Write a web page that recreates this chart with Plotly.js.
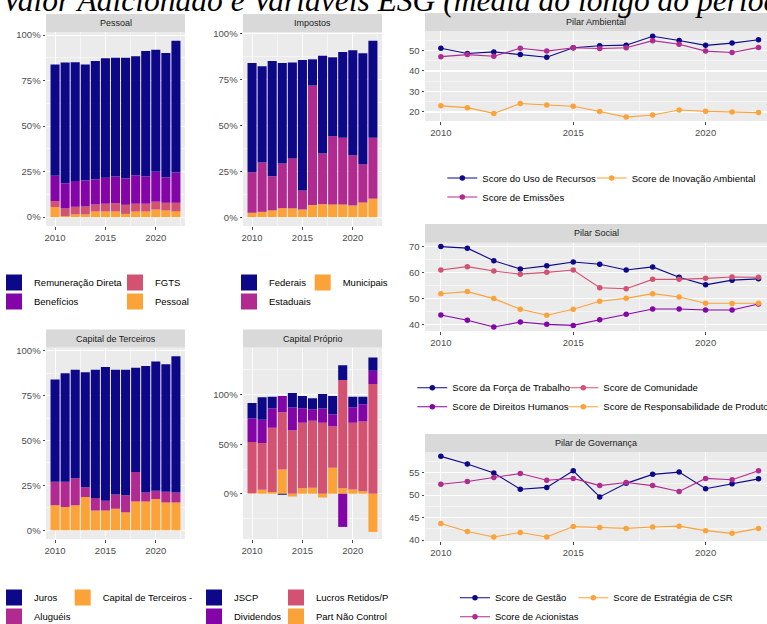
<!DOCTYPE html>
<html>
<head>
<meta charset="utf-8">
<script src="https://cdn.plot.ly/plotly-3.0.1.min.js"></script>
<style>
  html, body { margin: 0; padding: 0; background: #ffffff; }
  #chart { width: 767px; height: 624px; }
</style>
</head>
<body>
<div id="chart"></div>
<script>
// ---- Dados -------------------------------------------------------------
const years = [2010, 2011, 2012, 2013, 2014, 2015, 2016, 2017, 2018, 2019, 2020, 2021, 2022];

// Pessoal (% do valor adicionado)
const pessoalRemuneracaoDireta = [61.1, 66.3, 65.2, 63.7, 65.0, 65.6, 65.2, 66.3, 65.4, 68.9, 67.0, 68.2, 72.4];
const pessoalBeneficios        = [13.9, 13.8, 14.2, 14.2, 13.8, 14.3, 14.6, 14.4, 15.6, 14.9, 16.4, 14.0, 16.6];
const pessoalFGTS              = [3.3, 4.2, 4.2, 4.4, 3.9, 4.3, 4.6, 5.0, 4.3, 4.3, 4.3, 4.2, 4.8];
const pessoalPessoal           = [5.5, 0.6, 1.5, 1.5, 3.1, 3.1, 3.1, 1.8, 3.1, 3.1, 4.2, 3.7, 3.1];

// Impostos
const impostosFederais   = [59.6, 52.5, 62.9, 54.8, 52.1, 71.1, 14.3, 53.4, 43.0, 46.8, 57.2, 60.5, 52.9];
const impostosEstaduais  = [22.1, 26.9, 18.6, 24.4, 27.4, 10.4, 65.2, 27.6, 37.3, 36.4, 27.4, 20.9, 33.2];
const impostosMunicipais = [2.4, 2.9, 3.7, 4.9, 4.8, 4.2, 6.6, 7.1, 6.9, 6.9, 6.4, 8.0, 10.1];

// Capital de Terceiros
const terceirosJuros     = [57.0, 60.5, 60.5, 64.0, 71.5, 74.5, 69.5, 70.0, 58.0, 70.5, 72.0, 71.0, 76.0];
const terceirosAlugueis  = [13.0, 14.0, 15.0, 5.5, 7.0, 5.5, 8.0, 9.5, 16.5, 5.0, 4.5, 6.0, 5.5];
const terceirosCapital   = [14.0, 13.0, 14.0, 18.5, 11.0, 11.0, 12.0, 10.0, 16.0, 16.0, 17.5, 15.5, 15.5];

// Capital Próprio
const proprioJSCP          = [15.3, 22.7, 11.7, -1.0, 14.7, 12.4, 11.0, 14.7, 18.4, 15.1, 10.7, 7.7, 13.4];
const proprioDividendos    = [24.1, 23.4, 19.7, 16.4, 22.8, 14.7, 11.7, 14.4, 12.1, -33.4, 15.7, 17.4, 13.4];
const proprioLucrosRetidos = [51.7, 47.2, 64.9, 57.9, 64.2, 65.9, 67.6, 71.6, 41.8, 109.0, 67.3, 70.2, 110.7];
const proprioPartNaoContr  = [0.5, 4.0, 1.7, 24.4, -2.7, 5.7, 6.0, -3.7, 26.4, 5.7, 4.3, 2.7, -38.5];

// Pilar Ambiental
const ambUsoRecursos = [51.1, 48.5, 49.3, 48.0, 46.7, 51.3, 52.3, 52.6, 56.9, 54.9, 52.5, 53.6, 55.2];
const ambEmissoes    = [47.0, 48.0, 47.2, 51.1, 49.7, 51.3, 51.0, 51.3, 54.8, 53.0, 49.7, 49.0, 51.5];
const ambInovacao    = [23.0, 22.1, 19.3, 24.1, 23.4, 22.8, 20.2, 17.5, 18.5, 21.0, 20.3, 20.0, 19.7];

// Pilar Social
const socForcaTrabalho   = [70.0, 69.4, 64.6, 61.4, 62.6, 64.1, 63.2, 61.0, 62.2, 58.2, 55.3, 57.1, 57.6];
const socDireitosHumanos = [43.7, 41.7, 39.1, 41.0, 40.1, 39.7, 41.9, 44.0, 46.0, 46.0, 45.6, 45.6, 47.9];
const socComunidade      = [61.0, 62.3, 60.6, 59.4, 60.1, 61.0, 54.2, 53.8, 57.4, 57.4, 57.8, 58.3, 58.2];
const socRespProduto     = [51.9, 52.7, 50.0, 45.9, 43.6, 45.9, 49.0, 50.1, 51.9, 50.6, 48.2, 48.1, 48.2];

// Pilar de Governança
const govGestao        = [58.6, 56.9, 54.9, 51.3, 51.7, 55.4, 49.6, 52.6, 54.6, 55.1, 51.4, 52.5, 53.6];
const govAcionistas    = [52.4, 53.0, 53.9, 54.8, 53.3, 53.7, 52.1, 52.8, 52.1, 50.8, 53.7, 53.4, 55.4];
const govEstrategiaCSR = [43.7, 41.9, 40.7, 41.7, 40.7, 43.0, 42.8, 42.6, 42.9, 43.1, 42.1, 41.5, 42.6];

// ---- Estilo ------------------------------------------------------------
const NAVY = '#0D0887', PURPLE = '#8405A7', MAGENTA = '#B12A90', PINK = '#D35171', ORANGE = '#FBA238';
const SANS = 'Liberation Sans, Arial, Helvetica, sans-serif';
const W = 767, H = 624;
const px2x = p => p / W;
const px2y = p => 1 - p / H;

// painéis: posição em pixels da faixa de título e da área de plotagem
const panels = [
  { n: 1, title: 'Pessoal',              x: [46, 185],  strip: [14, 32],       plot: [32, 226],     xr: [2009.1, 2022.9],  yr: [-4.85, 101.7],  dt: 25, pct: true },
  { n: 2, title: 'Impostos',             x: [243, 382], strip: [14, 32],       plot: [32, 226],     xr: [2009.1, 2022.9],  yr: [-4.81, 101.0],  dt: 25, pct: true },
  { n: 3, title: 'Capital de Terceiros', x: [46, 185],  strip: [329.5, 347.5], plot: [347.5, 539],  xr: [2009.1, 2022.9],  yr: [-4.85, 101.85], dt: 25, pct: true },
  { n: 4, title: 'Capital Próprio',      x: [243, 382], strip: [329.5, 347.5], plot: [347.5, 539],  xr: [2009.1, 2022.9],  yr: [-45.6, 147.6],  dt: 50, pct: true },
  { n: 5, title: 'Pilar Ambiental',      x: [425, 767], strip: [13, 31],       plot: [31, 121],     xr: [2009.4, 2022.32], yr: [15.6, 59.5],    dt: 10 },
  { n: 6, title: 'Pilar Social',         x: [425, 767], strip: [224, 242.7],   plot: [242.7, 331],  xr: [2009.4, 2022.32], yr: [37.55, 71.5],   dt: 10 },
  { n: 7, title: 'Pilar de Governança',  x: [425, 767], strip: [434, 452.3],   plot: [452.3, 541],  xr: [2009.4, 2022.32], yr: [39.8, 59.5],    dt: 5 }
];

const layout = {
  width: W, height: H,
  margin: { l: 0, r: 0, t: 0, b: 0, autoexpand: false },
  paper_bgcolor: '#ffffff',
  plot_bgcolor: '#EBEBEB',
  barmode: 'relative',
  bargap: 0.1,
  showlegend: true,
  hovermode: false,
  font: { family: SANS, size: 9.5, color: '#000000' },
  shapes: [],
  annotations: []
};

const tickFont = { family: SANS, size: 9.5, color: '#4D4D4D' };

panels.forEach(p => {
  const s = p.n === 1 ? '' : String(p.n);
  layout['xaxis' + s] = {
    domain: [px2x(p.x[0]), px2x(p.x[1])],
    anchor: 'y' + s, range: p.xr, fixedrange: true,
    tick0: 2010, dtick: 5,
    ticks: 'outside', ticklen: 2.5, tickwidth: 0.9, tickcolor: '#333333',
    tickfont: tickFont,
    showgrid: true, gridcolor: '#FFFFFF', gridwidth: 1.05,
    minor: { tick0: 2010, dtick: 2.5, showgrid: true, gridcolor: '#FFFFFF', gridwidth: 0.5 },
    zeroline: false, showline: false
  };
  layout['yaxis' + s] = {
    domain: [px2y(p.plot[1]), px2y(p.plot[0])],
    anchor: 'x' + s, range: p.yr, fixedrange: true,
    tick0: 0, dtick: p.dt, ticksuffix: p.pct ? '%' : '',
    ticks: 'outside', ticklen: 2.5, tickwidth: 0.9, tickcolor: '#333333',
    tickfont: tickFont,
    showgrid: true, gridcolor: '#FFFFFF', gridwidth: 1.05,
    minor: { tick0: 0, dtick: p.dt / 2, showgrid: true, gridcolor: '#FFFFFF', gridwidth: 0.5 },
    zeroline: false, showline: false
  };
  // faixa de título do painel
  layout.shapes.push({
    type: 'rect', xref: 'paper', yref: 'paper', layer: 'below',
    x0: px2x(p.x[0]), x1: px2x(p.x[1]), y0: px2y(p.strip[1]), y1: px2y(p.strip[0]),
    fillcolor: '#D9D9D9', line: { width: 0 }
  });
  layout.annotations.push({
    text: p.title, xref: 'paper', yref: 'paper', showarrow: false,
    x: px2x((p.x[0] + p.x[1]) / 2), y: px2y((p.strip[0] + p.strip[1]) / 2),
    xanchor: 'center', yanchor: 'middle',
    font: { family: SANS, size: 9, color: '#1A1A1A' }
  });
});

// título geral (a parte de cima fica fora da página)
layout.annotations.push({
  text: '<i>Valor Adicionado e Variáveis ESG (média ao longo do período)</i>',
  xref: 'paper', yref: 'paper', x: 0, y: px2y(20.3),
  xanchor: 'left', yanchor: 'bottom', showarrow: false,
  font: { family: 'Liberation Serif, Times New Roman, serif', size: 31.5, color: '#000000' }
});

// legendas (uma coluna por legenda)
const legendPos = {
  legend:   [-6, 268],      legend2:  [115, 268],
  legend3:  [229, 268],     legend4:  [302.7, 268],
  legend5:  [-6, 583],      legend6:  [62.7, 583],
  legend7:  [194, 583],     legend8:  [276, 583],
  legend9:  [442.3, 163.5], legend10: [591.7, 163.5],
  legend11: [412.3, 373.2], legend12: [563.3, 373.2],
  legend13: [455, 583.2],   legend14: [573.3, 583.2]
};
Object.keys(legendPos).forEach(k => {
  const [lx, ty] = legendPos[k];
  layout[k] = {
    x: px2x(lx), y: px2y(ty), xanchor: 'left', yanchor: 'top',
    orientation: 'v', bgcolor: 'rgba(0,0,0,0)', borderwidth: 0,
    tracegroupgap: 0, traceorder: 'normal',
    font: { family: SANS, size: 9.5, color: '#000000' },
    itemclick: false, itemdoubleclick: false
  };
});

// ---- Traços ------------------------------------------------------------
const traces = [];
function ax(n) { return n === 1 ? '' : String(n); }
function bar(n, name, y, color) {
  traces.push({
    type: 'bar', x: years, y: y, name: name,
    xaxis: 'x' + ax(n), yaxis: 'y' + ax(n),
    marker: { color: color, line: { width: 0 } },
    showlegend: false, hoverinfo: 'skip'
  });
}
function fillKey(name, color, legendId) {
  traces.push({
    type: 'scatter', mode: 'markers', x: [null], y: [null], name: name,
    xaxis: 'x', yaxis: 'y', legend: legendId,
    marker: { symbol: 'square', size: 16, color: color, line: { width: 0 } },
    showlegend: true, hoverinfo: 'skip'
  });
}
function lineTrace(n, name, y, color, legendId) {
  traces.push({
    type: 'scatter', mode: 'lines+markers', x: years, y: y, name: name,
    xaxis: 'x' + ax(n), yaxis: 'y' + ax(n), legend: legendId,
    line: { color: color, width: 1.1 },
    marker: { color: color, size: 5.5 },
    hoverinfo: 'skip'
  });
}

// barras empilhadas: primeiro traço fica junto ao zero
bar(1, 'Pessoal', pessoalPessoal, ORANGE);
bar(1, 'FGTS', pessoalFGTS, PINK);
bar(1, 'Benefícios', pessoalBeneficios, PURPLE);
bar(1, 'Remuneração Direta', pessoalRemuneracaoDireta, NAVY);

bar(2, 'Municipais', impostosMunicipais, ORANGE);
bar(2, 'Estaduais', impostosEstaduais, MAGENTA);
bar(2, 'Federais', impostosFederais, NAVY);

bar(3, 'Capital de Terceiros', terceirosCapital, ORANGE);
bar(3, 'Aluguéis', terceirosAlugueis, MAGENTA);
bar(3, 'Juros', terceirosJuros, NAVY);

bar(4, 'Part Não Control', proprioPartNaoContr, ORANGE);
bar(4, 'Lucros Retidos/P', proprioLucrosRetidos, PINK);
bar(4, 'Dividendos', proprioDividendos, PURPLE);
bar(4, 'JSCP', proprioJSCP, NAVY);

// chaves de legenda das barras
fillKey('Remuneração Direta', NAVY, 'legend');
fillKey('Benefícios', PURPLE, 'legend');
fillKey('FGTS', PINK, 'legend2');
fillKey('Pessoal', ORANGE, 'legend2');
fillKey('Federais', NAVY, 'legend3');
fillKey('Estaduais', MAGENTA, 'legend3');
fillKey('Municipais', ORANGE, 'legend4');
fillKey('Juros', NAVY, 'legend5');
fillKey('Aluguéis', MAGENTA, 'legend5');
fillKey('Capital de Terceiros -', ORANGE, 'legend6');
fillKey('JSCP', NAVY, 'legend7');
fillKey('Dividendos', PURPLE, 'legend7');
fillKey('Lucros Retidos/P', PINK, 'legend8');
fillKey('Part Não Control', ORANGE, 'legend8');

// linhas ESG
lineTrace(5, 'Score do Uso de Recursos', ambUsoRecursos, NAVY, 'legend9');
lineTrace(5, 'Score de Emissões', ambEmissoes, MAGENTA, 'legend9');
lineTrace(5, 'Score de Inovação Ambiental', ambInovacao, ORANGE, 'legend10');

lineTrace(6, 'Score da Força de Trabalho', socForcaTrabalho, NAVY, 'legend11');
lineTrace(6, 'Score de Direitos Humanos', socDireitosHumanos, PURPLE, 'legend11');
lineTrace(6, 'Score de Comunidade', socComunidade, PINK, 'legend12');
lineTrace(6, 'Score de Responsabilidade de Produto', socRespProduto, ORANGE, 'legend12');

lineTrace(7, 'Score de Gestão', govGestao, NAVY, 'legend13');
lineTrace(7, 'Score de Acionistas', govAcionistas, MAGENTA, 'legend13');
lineTrace(7, 'Score de Estratégia de CSR', govEstrategiaCSR, ORANGE, 'legend14');

Plotly.newPlot('chart', traces, layout, { displayModeBar: false, staticPlot: true });
</script>
</body>
</html>
